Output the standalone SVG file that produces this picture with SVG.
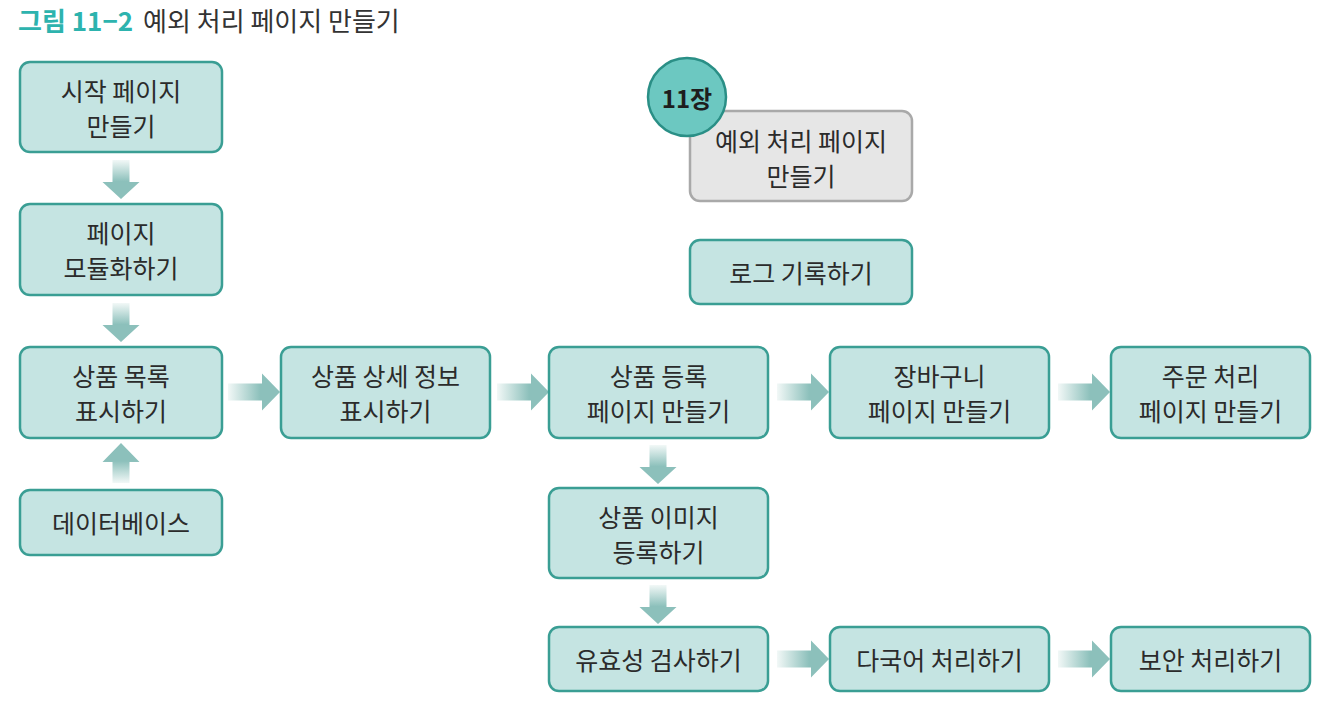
<svg xmlns="http://www.w3.org/2000/svg" width="1332" height="703" viewBox="0 0 1332 703">
<style>
.n rect{fill:#c5e4e2;stroke:#3a9e94;stroke-width:2.5}
.t{font-family:"Noto Sans CJK KR","Noto Sans",sans-serif;font-size:25px;fill:#2b2b2b;text-anchor:middle;dominant-baseline:central}
.g rect{fill:#e6e6e6;stroke:#a9a9a9;stroke-width:2.5}
</style>
<defs>
<linearGradient id="gR" x1="0" y1="0" x2="1" y2="0"><stop offset="0" stop-color="#f2f8f7"/><stop offset="0.62" stop-color="#8cc0bb"/><stop offset="1" stop-color="#8cc0bb"/></linearGradient>
<linearGradient id="gD" x1="0" y1="0" x2="0" y2="1"><stop offset="0" stop-color="#f2f8f7"/><stop offset="0.55" stop-color="#8cc0bb"/><stop offset="1" stop-color="#8cc0bb"/></linearGradient>
<linearGradient id="gU" x1="0" y1="1" x2="0" y2="0"><stop offset="0" stop-color="#f2f8f7"/><stop offset="0.55" stop-color="#8cc0bb"/><stop offset="1" stop-color="#8cc0bb"/></linearGradient>
</defs>
<rect width="1332" height="703" fill="#ffffff"/>
<text x="18" y="31" style="font-family:'Noto Sans CJK KR','Noto Sans',sans-serif;font-size:26px"><tspan fill="#2db3ae" font-weight="bold">그림 11−2</tspan><tspan fill="#333333" dx="10">예외 처리 페이지 만들기</tspan></text>
<g id="connectors">
<path d="M112.5,160 H129.5 V182 H139.5 L121,199 L102.5,182 H112.5 Z" fill="url(#gD)"/>
<path d="M112.5,303 H129.5 V325 H139.5 L121,342 L102.5,325 H112.5 Z" fill="url(#gD)"/>
<path d="M112.5,483 H129.5 V462 H139.5 L121,443 L102.5,462 H112.5 Z" fill="url(#gU)"/>
<path d="M649.5,445 H666.5 V467 H676.5 L658,484 L639.5,467 H649.5 Z" fill="url(#gD)"/>
<path d="M649.5,585 H666.5 V607 H676.5 L658,624 L639.5,607 H649.5 Z" fill="url(#gD)"/>
<path d="M228,383.5 H262 V373.5 L280,392 L262,410.5 V400.5 H228 Z" fill="url(#gR)"/>
<path d="M497,383.5 H531 V373.5 L549,392 L531,410.5 V400.5 H497 Z" fill="url(#gR)"/>
<path d="M777,383.5 H811 V373.5 L829,392 L811,410.5 V400.5 H777 Z" fill="url(#gR)"/>
<path d="M1058,383.5 H1092 V373.5 L1110,392 L1092,410.5 V400.5 H1058 Z" fill="url(#gR)"/>
<path d="M777,650.5 H811 V640.5 L829,659 L811,677.5 V667.5 H777 Z" fill="url(#gR)"/>
<path d="M1058,650.5 H1092 V640.5 L1110,659 L1092,677.5 V667.5 H1058 Z" fill="url(#gR)"/>
</g>
<g id="n1" class="n"><rect x="20" y="62" width="202" height="90" rx="10"/><text class="t" x="121" y="90">시작 페이지</text><text class="t" x="121" y="125">만들기</text></g>
<g id="n2" class="n"><rect x="20" y="204" width="202" height="91" rx="10"/><text class="t" x="121" y="232">페이지</text><text class="t" x="121" y="267">모듈화하기</text></g>
<g id="n3" class="n"><rect x="20" y="347" width="202" height="91" rx="10"/><text class="t" x="121" y="375">상품 목록</text><text class="t" x="121" y="410">표시하기</text></g>
<g id="n4" class="n"><rect x="20" y="490" width="202" height="65" rx="10"/><text class="t" x="121" y="522">데이터베이스</text></g>
<g id="n5" class="n"><rect x="281" y="347" width="209" height="91" rx="10"/><text class="t" x="385.5" y="375">상품 상세 정보</text><text class="t" x="385.5" y="410">표시하기</text></g>
<g id="n6" class="n"><rect x="549" y="347" width="219" height="91" rx="10"/><text class="t" x="658.5" y="375">상품 등록</text><text class="t" x="658.5" y="410">페이지 만들기</text></g>
<g id="n7" class="n"><rect x="830" y="347" width="219" height="91" rx="10"/><text class="t" x="939.5" y="375">장바구니</text><text class="t" x="939.5" y="410">페이지 만들기</text></g>
<g id="n8" class="n"><rect x="1111" y="347" width="199" height="91" rx="10"/><text class="t" x="1210.5" y="375">주문 처리</text><text class="t" x="1210.5" y="410">페이지 만들기</text></g>
<g id="n9" class="n"><rect x="549" y="488" width="219" height="90" rx="10"/><text class="t" x="658.5" y="516">상품 이미지</text><text class="t" x="658.5" y="551">등록하기</text></g>
<g id="n10" class="n"><rect x="549" y="627" width="219" height="64" rx="10"/><text class="t" x="658.5" y="659">유효성 검사하기</text></g>
<g id="n11" class="n"><rect x="830" y="627" width="219" height="64" rx="10"/><text class="t" x="939.5" y="659">다국어 처리하기</text></g>
<g id="n12" class="n"><rect x="1111" y="627" width="199" height="64" rx="10"/><text class="t" x="1210.5" y="659">보안 처리하기</text></g>
<g id="n13" class="g"><rect x="690" y="111" width="222" height="90" rx="10"/><text class="t" x="801" y="140">예외 처리 페이지</text><text class="t" x="801" y="175">만들기</text></g>
<g id="n14" class="n"><rect x="690" y="240" width="222" height="64" rx="10"/><text class="t" x="801" y="272">로그 기록하기</text></g>
<g id="badge"><circle cx="687" cy="97" r="39" fill="#6cc8c1" stroke="#2a8f86" stroke-width="2.5"/><text class="t" x="687" y="97" style="font-weight:bold;font-size:24px;fill:#1e1e1e">11장</text></g>
</svg>
